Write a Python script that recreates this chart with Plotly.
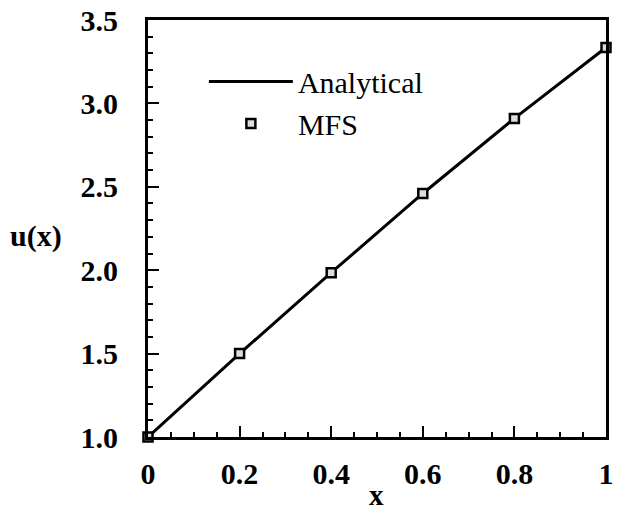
import plotly.graph_objects as go

x_pts = [0.0, 0.2, 0.4, 0.6, 0.8, 1.0]
analytical = [1.0, 1.50, 1.985, 2.46, 2.91, 3.335]
mfs = [1.0, 1.50, 1.985, 2.46, 2.91, 3.335]

x_ticks = [0, 0.2, 0.4, 0.6, 0.8, 1]
x_ticklabels = ["0", "0.2", "0.4", "0.6", "0.8", "1"]
y_ticks = [1.0, 1.5, 2.0, 2.5, 3.0, 3.5]
y_ticklabels = ["1.0", "1.5", "2.0", "2.5", "3.0", "3.5"]

FONT = "Liberation Serif"

fig = go.Figure()
fig.add_trace(go.Scatter(x=x_pts, y=analytical, mode="lines", name="Analytical",
                         line=dict(color="black", width=3), cliponaxis=False))
fig.add_trace(go.Scatter(x=x_pts, y=mfs, mode="markers", name="MFS", cliponaxis=False,
                         marker=dict(symbol="square", size=9, color="#dddddd",
                                     line=dict(color="black", width=2.5))))

fig.update_layout(
    width=617, height=510,
    margin=dict(l=148, r=3, t=17, b=73),
    paper_bgcolor="white", plot_bgcolor="white",
    font=dict(family=FONT, color="black"),
    showlegend=True,
    legend=dict(x=0.122, y=0.915, xanchor="left", yanchor="top",
                bgcolor="rgba(0,0,0,0)", font=dict(size=30, family=FONT),
                itemwidth=84, tracegroupgap=0),
    xaxis=dict(range=[0, 1], showgrid=False, zeroline=False,
               showline=True, linecolor="black", linewidth=3, mirror=True,
               tickmode="array", tickvals=x_ticks, ticktext=x_ticklabels,
               ticks="inside", ticklen=11, tickwidth=2, tickcolor="black",
               minor=dict(dtick=0.05, ticks="inside", ticklen=5, tickwidth=1.5, tickcolor="black"),
               tickfont=dict(size=30, family=FONT, weight="bold"),
               ticklabeloverflow="allow",
               ticklabelstandoff=8),
    yaxis=dict(range=[1.0, 3.5], showgrid=False, zeroline=False,
               showline=True, linecolor="black", linewidth=3, mirror=True,
               tickmode="array", tickvals=y_ticks, ticktext=y_ticklabels,
               ticks="inside", ticklen=11, tickwidth=2, tickcolor="black",
               minor=dict(dtick=0.1, ticks="inside", ticklen=5, tickwidth=1.5, tickcolor="black"),
               tickfont=dict(size=30, family=FONT, weight="bold"),
               ticklabelstandoff=21),
    annotations=[
        dict(text="<b>u(x)</b>", x=-0.245, y=0.483, xref="paper", yref="paper",
             xanchor="center", yanchor="middle", showarrow=False,
             font=dict(size=30, family=FONT)),
        dict(text="<b>x</b>", x=0.498, y=-0.14, xref="paper", yref="paper",
             xanchor="center", yanchor="middle", showarrow=False,
             font=dict(size=29, family=FONT)),
    ],
)

fig.write_html("out.html", config={"displayModeBar": False},
               post_script="document.body.style.margin='0';")
